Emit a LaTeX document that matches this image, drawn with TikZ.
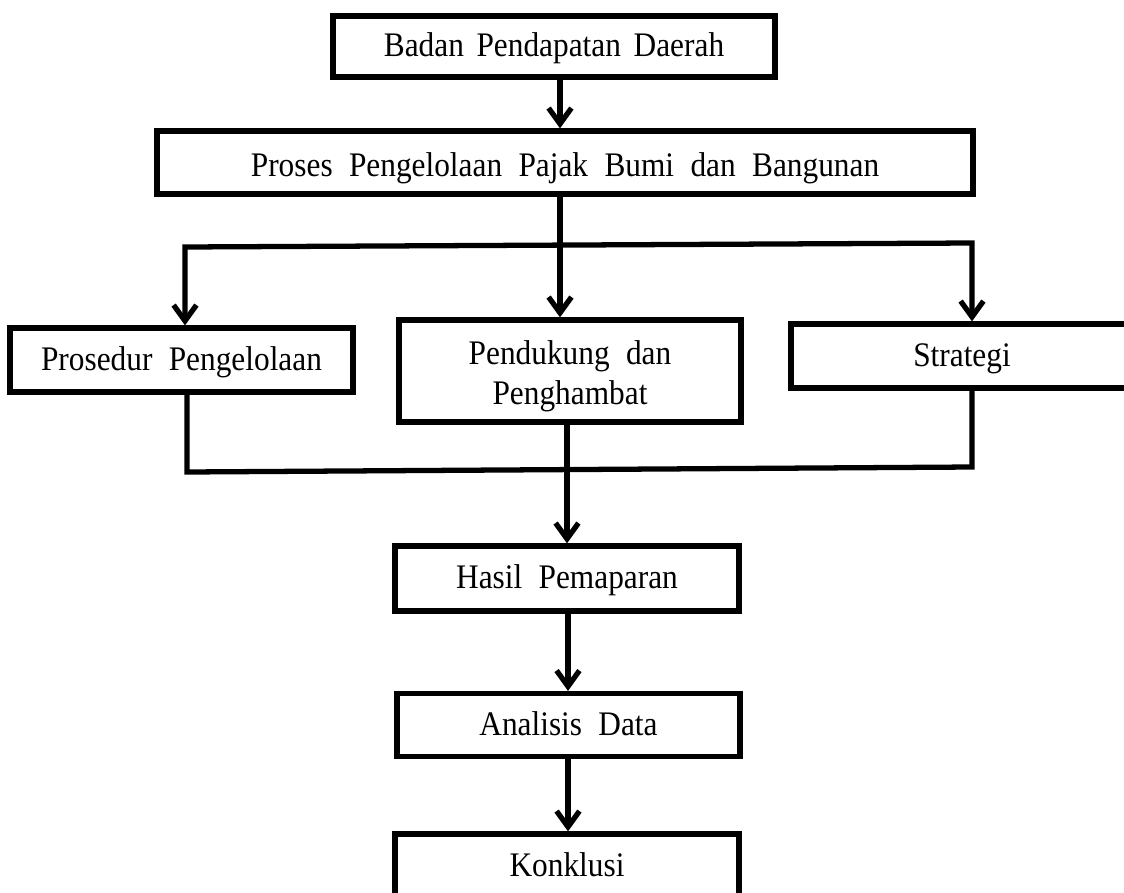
\documentclass[tikz,border=0pt]{standalone}
\usepackage{fontspec}
\setmainfont[FakeStretch=0.91]{Liberation Serif}
\usetikzlibrary{arrows.meta}
\begin{document}
\begin{tikzpicture}[x=0.02cm,y=-0.02cm,
  bx/.style n args={2}{draw, line width=3pt, minimum width=#1*0.02cm,
    minimum height=#2*0.02cm, inner sep=0pt, align=center,
    font=\fontsize{19.6}{22.7}\selectfont,
    execute at begin node={\spaceskip=9.3pt plus 1pt\relax}},
  oneline/.style={text height=0.55cm, text depth=0.15cm},
  lowline/.style={text height=0.63cm, text depth=0.07cm},
  narrowgap/.style={execute at begin node={\spaceskip=7.2pt plus 1pt\relax}},
  link/.style={line width=3pt},
  arr/.style={link,-{Straight Barb[length=9pt,width=13pt]}},
  arr2/.style={link,{Straight Barb[length=9pt,width=13pt]}-{Straight Barb[length=9pt,width=13pt]}}
]
\useasboundingbox (0,0) rectangle (1124,892);

% boxes
\node[bx={442}{61}, oneline, narrowgap] (badan) at (554,46.5) {Badan Pendapatan Daerah};
\node[bx={816}{63}, lowline] (proses) at (565,162.5) {Proses Pengelolaan Pajak Bumi dan Bangunan};
\node[bx={343}{64}, oneline] (prosedur) at (181.5,360) {Prosedur Pengelolaan};
\node[bx={342}{102}] (pendukung) at (570,371) {\rule{0pt}{0.69cm}Pendukung dan\\Penghambat};
\node[bx={342}{64}, oneline] (strategi) at (962,356) {Strategi};
\node[bx={344}{65}, oneline] (hasil) at (567,578.5) {Hasil Pemaparan};
\node[bx={343}{63}, oneline] (analisis) at (568.5,725) {Analisis Data};
\node[bx={344}{64}, oneline] (konklusi) at (567,866) {Konklusi};

% guide coordinates for the connectors
\coordinate (spine) at (560,0);
\coordinate (bl) at (185,247);
\coordinate (br) at (972,243);
\coordinate (ml) at (187,472);
\coordinate (mr) at (972,467);
\coordinate (mid) at (567,0);
\coordinate (low) at (568,0);

% connectors
\draw[arr] (badan.south -| spine) -- (proses.north -| spine);
\draw[arr] (proses.south -| spine) -- (pendukung.north -| spine);
\draw[arr2] (prosedur.north -| bl) -- (bl) -- (br) -- (strategi.north -| br);
\draw[link] (prosedur.south -| ml) -- (ml) -- (mr) -- (strategi.south -| mr);
\draw[arr] (pendukung.south -| mid) -- (hasil.north -| mid);
\draw[arr] (hasil.south -| low) -- (analisis.north -| low);
\draw[arr] (analisis.south -| low) -- (konklusi.north -| low);
\end{tikzpicture}
\end{document}
